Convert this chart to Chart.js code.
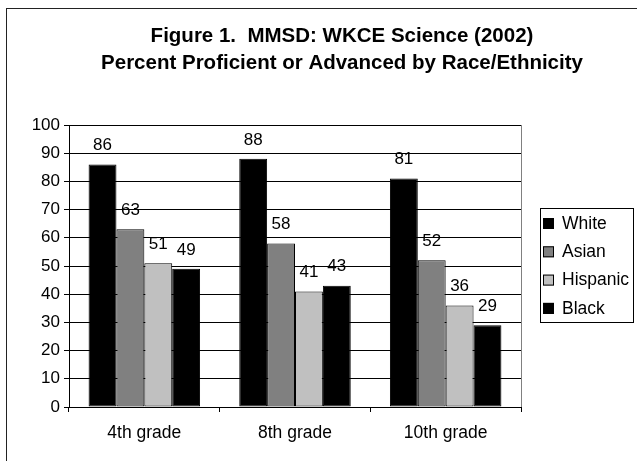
<!DOCTYPE html>
<html>
<head>
<meta charset="utf-8">
<script src="https://cdn.jsdelivr.net/npm/chart.js@4/dist/chart.umd.min.js"></script>
<style>
  html, body { margin: 0; padding: 0; background: #fff; overflow: hidden; }
  canvas { display: block; }
</style>
</head>
<body>
<canvas id="myChart" width="684" height="461" style="width:684px;height:461px"></canvas>
<script>
const ctx = document.getElementById('myChart');

const grades = ['4th grade', '8th grade', '10th grade'];
const white = [86, 88, 81];
const asian = [63, 58, 52];
const hispanic = [51, 41, 36];
const black = [49, 43, 29];
const groupNames = ['White', 'Asian', 'Hispanic', 'Black'];
const groupColors = ['#000000', '#808080', '#c0c0c0', '#000000'];
const titleLines = ['Figure 1.  MMSD: WKCE Science (2002)', 'Percent Proficient or Advanced by Race/Ethnicity'];

const fontFamily = '"Liberation Sans", Arial, sans-serif';

// outer frame, right plot border, value labels and boxed legend
const extras = {
    id: 'extras',
    beforeDraw(chart) {
        const c = chart.ctx;
        c.save();
        c.fillStyle = '#fff';
        c.fillRect(0, 0, chart.width, chart.height);
        c.strokeStyle = '#222';
        c.lineWidth = 1;
        c.strokeRect(6.5, 8.5, chart.width + 20, chart.height + 20);
        c.restore();
    },
    afterDatasetsDraw(chart) {
        const c = chart.ctx;
        const area = chart.chartArea;
        c.save();
        c.strokeStyle = '#808080';
        c.lineWidth = 1;
        c.beginPath();
        c.moveTo(Math.round(area.right) + 0.5, area.top);
        c.lineTo(Math.round(area.right) + 0.5, area.bottom);
        c.stroke();

        c.fillStyle = '#000';
        c.font = '17px ' + fontFamily;
        c.textAlign = 'center';
        c.textBaseline = 'middle';
        chart.data.datasets.forEach(function(ds, i) {
            chart.getDatasetMeta(i).data.forEach(function(bar, j) {
                c.fillText(String(ds.data[j]), bar.x, bar.y - 19);
            });
        });

        // legend
        const lx = Math.round(area.right) + 19;
        const lw = 93;
        const lh = 114;
        const ly = Math.round((area.top + area.bottom) / 2 - lh / 2) - 1;
        c.strokeStyle = '#000';
        c.strokeRect(lx + 0.5, ly + 0.5, lw, lh);
        c.textAlign = 'left';
        c.font = '17.5px ' + fontFamily;
        chart.data.datasets.forEach(function(ds, i) {
            const cy = ly + 15 + i * 28.3;
            c.fillStyle = ds.backgroundColor;
            c.fillRect(lx + 3, cy - 5, 11, 11);
            c.strokeStyle = '#000';
            c.strokeRect(lx + 3.5, cy - 4.5, 10, 10);
            c.fillStyle = '#000';
            c.fillText(ds.label, lx + 22, cy + 1);
        });
        c.restore();
    }
};

new Chart(ctx, {
    type: 'bar',
    data: {
        labels: grades,
        datasets: [white, asian, hispanic, black].map(function(vals, i) {
            return {
                label: groupNames[i],
                data: vals,
                backgroundColor: groupColors[i],
                borderColor: '#000',
                borderWidth: 1,
                borderSkipped: false,
                categoryPercentage: 0.74,
                barPercentage: 1.0
            };
        })
    },
    options: {
        responsive: false,
        animation: false,
        devicePixelRatio: 1,
        layout: { padding: { left: 0, right: 0, top: 0, bottom: 0 } },
        plugins: {
            legend: { display: false },
            tooltip: { enabled: false },
            title: {
                display: true,
                text: titleLines,
                color: '#000',
                font: { family: fontFamily, size: 20.5, weight: 'bold', lineHeight: '27px' },
                padding: { top: 23, bottom: 48 }
            }
        },
        scales: {
            x: {
                grid: {
                    display: true,
                    drawOnChartArea: false,
                    drawTicks: true,
                    tickLength: 5,
                    color: '#000',
                    offset: true
                },
                border: { display: true, color: '#000' },
                ticks: {
                    color: '#000',
                    font: { family: fontFamily, size: 17.5 },
                    padding: 11,
                    maxRotation: 0
                },
                afterFit: function(scale) { scale.height = 54; }
            },
            y: {
                min: 0,
                max: 100,
                ticks: {
                    stepSize: 10,
                    color: '#000',
                    font: { family: fontFamily, size: 17 },
                    padding: 4
                },
                grid: {
                    color: '#000',
                    tickLength: 5
                },
                border: { display: true, color: '#000' },
                afterFit: function(scale) { scale.width = 69; }
            },
            yRight: {
                position: 'right',
                display: true,
                grid: { display: false },
                border: { display: false },
                ticks: { display: false },
                afterFit: function(scale) { scale.width = 163; }
            }
        }
    },
    plugins: [extras]
});
</script>
</body>
</html>
